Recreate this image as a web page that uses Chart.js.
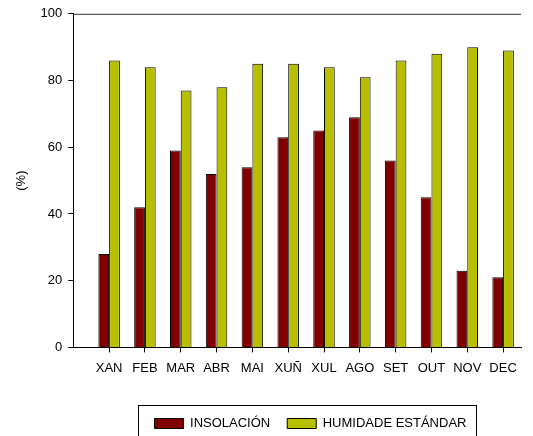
<html>
<head>
	<meta charset="utf-8">
	<script src="https://cdn.jsdelivr.net/npm/chart.js@4/dist/chart.umd.min.js"></script>
	<title></title>
	<style>
		body { margin: 0; background: #fff; }
		#wrap { width: 533px; height: 436px; }
	</style>
</head>
<body>
	<div id="wrap"><canvas id="bar-chart" width="533" height="436"></canvas></div>
	<script>

	var months = ['XAN', 'FEB', 'MAR', 'ABR', 'MAI', 'XUÑ', 'XUL', 'AGO', 'SET', 'OUT', 'NOV', 'DEC'];
	var insolacion = [28, 42, 59, 52, 54, 63, 65, 69, 56, 45, 23, 21];
	var humidade = [86, 84, 77, 78, 85, 85, 84, 81, 86, 88, 90, 89];
	var yTicks = [0, 20, 40, 60, 80, 100];

	var font = "'Liberation Sans', Arial, sans-serif";

	// months sit at x = 1..12 on a 0..12.5 axis
	function toPoints(arr) {
		return arr.map(function(v, i) { return { x: i + 1, y: v }; });
	}

	// legend is offset a bit right/down from centre in the original
	var legendShiftX = 43, legendShiftY = 4;

	// top frame line + box round the legend
	var framePlugin = {
		id: 'frame',
		afterUpdate: function(chart) {
			var lg = chart.legend;
			lg.left += legendShiftX; lg.right += legendShiftX;
			lg.top += legendShiftY; lg.bottom += legendShiftY;
			(lg.legendHitBoxes || []).forEach(function(h) {
				h.left += legendShiftX; h.top += legendShiftY;
			});
		},
		afterDraw: function(chart) {
			var ctx = chart.ctx;
			var a = chart.chartArea;
			ctx.save();
			ctx.strokeStyle = '#333';
			ctx.lineWidth = 1;
			ctx.beginPath();
			ctx.moveTo(a.left, a.top + 0.5);
			ctx.lineTo(a.right, a.top + 0.5);
			ctx.stroke();

			var boxes = chart.legend.legendHitBoxes;
			if (boxes && boxes.length) {
				var l = boxes[0].left, r = boxes[0].left + boxes[0].width;
				var t = boxes[0].top;
				boxes.forEach(function(h) {
					l = Math.min(l, h.left); r = Math.max(r, h.left + h.width);
					t = Math.min(t, h.top);
				});
				ctx.strokeStyle = '#000';
				ctx.strokeRect(Math.round(l - 17) + 0.5, Math.round(t - 12) + 0.5, Math.round(r - l + 26), 60);
			}
			ctx.restore();
		}
	};

	var ctx = document.getElementById('bar-chart').getContext('2d');
	var chart = new Chart(ctx, {
		type: 'bar',
		data: {
			datasets: [{
				label: 'INSOLACIÓN',
				data: toPoints(insolacion),
				backgroundColor: '#800000',
				borderColor: '#000',
				borderWidth: 1
			}, {
				label: 'HUMIDADE ESTÁNDAR',
				data: toPoints(humidade),
				backgroundColor: '#b8bf00',
				borderColor: '#000',
				borderWidth: 1
			}]
		},
		options: {
			responsive: false,
			animation: false,
			layout: { padding: { left: 14, right: 12, top: 13, bottom: 0 } },
			datasets: { bar: { categoryPercentage: 0.6, barPercentage: 1.0 } },
			scales: {
				x: {
					type: 'linear',
					offset: false,
					min: 0,
					max: 12.5,
					afterBuildTicks: function(axis) {
						axis.ticks = months.map(function(m, i) { return { value: i + 1 }; });
					},
					afterFit: function(axis) { axis.height += 12; },
					ticks: {
						autoSkip: false,
						maxRotation: 0,
						padding: 8,
						color: '#000',
						font: { family: font, size: 13 },
						callback: function(v) { return months[v - 1]; }
					},
					grid: { offset: false, drawOnChartArea: false, tickLength: 5, color: '#000' },
					border: { color: '#000' }
				},
				y: {
					min: 0,
					max: 100,
					afterBuildTicks: function(axis) {
						axis.ticks = yTicks.map(function(v) { return { value: v }; });
					},
					ticks: {
						padding: 6,
						color: '#000',
						font: { family: font, size: 13 }
					},
					grid: { drawOnChartArea: false, tickLength: 5, color: '#000' },
					border: { color: '#000' },
					title: {
						display: true,
						text: '(%)',
						color: '#000',
						font: { family: font, size: 13 },
						padding: { top: 0, bottom: 5 }
					}
				}
			},
			plugins: {
				legend: {
					position: 'bottom',
					labels: {
						boxWidth: 29,
						boxHeight: 10,
						padding: 17,
						color: '#000',
						font: { family: font, size: 13 }
					}
				},
				tooltip: { enabled: false }
			}
		},
		plugins: [framePlugin]
	});

	</script>
</body>
</html>
